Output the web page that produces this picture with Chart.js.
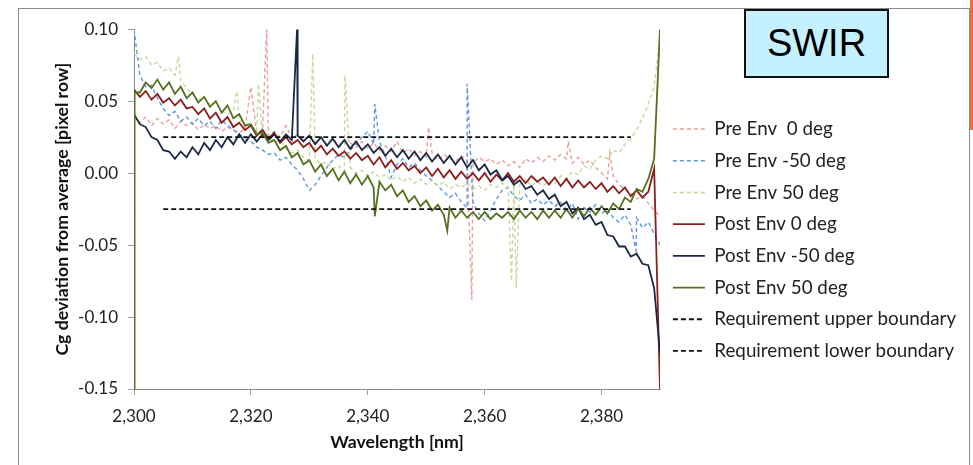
<!DOCTYPE html>
<html lang="en">

<head>
  <meta charset="UTF-8">
  <title>SWIR - Cg deviation</title>
  <script src="https://cdn.jsdelivr.net/npm/chart.js"></script>
  <style>
    body {
      margin: 0;
      width: 973px;
      height: 465px;
      background: #fff;
      position: relative;
      overflow: hidden;
    }

    .moldura {
      position: absolute;
      left: 18px;
      top: 8px;
      width: 950px;
      height: 480px;
      border: 1px solid #8c8c8c;
    }

    .laranja {
      position: absolute;
      left: 970px;
      top: 0;
      width: 3px;
      height: 130px;
      background: #e8742c;
    }

    #grafico {
      position: absolute;
      left: 19px;
      top: 9px;
    }

    .swir {
      position: absolute;
      left: 744px;
      top: 9px;
      width: 141px;
      height: 65px;
      border: 2px solid #111;
      background: #c5f0ff;
      color: #000;
      font-family: 'Liberation Sans', Arial, sans-serif;
      font-size: 38px;
      display: flex;
      align-items: center;
      justify-content: center;
    }
  </style>
</head>

<body>
  <div class="moldura"></div>
  <div class="laranja"></div>
  <canvas id="grafico" width="949" height="456"></canvas>
  <div class="swir">SWIR</div>

  <script>
    // wavelength axis, 1 nm steps (2300 .. 2390)
    const wavelength = [
      2300, 2301, 2302, 2303, 2304, 2305, 2306, 2307, 2308, 2309,
      2310, 2311, 2312, 2313, 2314, 2315, 2316, 2317, 2318, 2319,
      2320, 2321, 2322, 2323, 2324, 2325, 2326, 2327, 2328, 2329,
      2330, 2331, 2332, 2333, 2334, 2335, 2336, 2337, 2338, 2339,
      2340, 2341, 2342, 2343, 2344, 2345, 2346, 2347, 2348, 2349,
      2350, 2351, 2352, 2353, 2354, 2355, 2356, 2357, 2358, 2359,
      2360, 2361, 2362, 2363, 2364, 2365, 2366, 2367, 2368, 2369,
      2370, 2371, 2372, 2373, 2374, 2375, 2376, 2377, 2378, 2379,
      2380, 2381, 2382, 2383, 2384, 2385, 2386, 2387, 2388, 2389,
      2390
    ];

    const preEnv0 = [
      0.040, 0.035, 0.039, 0.033, 0.038, 0.034, 0.037, 0.031, 0.036, 0.033,
      0.035, 0.030, 0.034, 0.031, 0.033, 0.029, 0.032, 0.030, 0.028, 0.031,
      0.060, 0.027, 0.031, 0.026, 0.029, 0.025, 0.033, 0.024, 0.027, 0.023,
      0.026, 0.021, 0.025, 0.020, 0.024, 0.019, 0.023, 0.021, 0.018, 0.022,
      0.017, 0.021, 0.016, 0.019, 0.015, 0.022, 0.014, 0.017, 0.012, 0.015,
      0.011, 0.014, 0.009, 0.013, 0.010, 0.008, 0.012, 0.009, 0.007, 0.011,
      0.008, 0.010, 0.006, 0.009, 0.005, 0.008, 0.004, 0.010, 0.007, 0.011,
      0.008, 0.012, 0.009, 0.013, 0.010, 0.007, 0.011, 0.006, 0.009, 0.004,
      0.000, -0.004, -0.002, -0.008, -0.011, -0.014, -0.018, -0.016, -0.021, -0.026,
      -0.030
    ];
    const preEnv0Spikes = [[2322.7, 0.100], [2350.4, 0.032], [2357.8, -0.088], [2374.3, 0.022], [2381.4, 0.014]];

    const preEnvM50 = [
      0.100, 0.068, 0.060, 0.061, 0.052, 0.045, 0.040, 0.043, 0.036, 0.039,
      0.034, 0.038, 0.033, 0.036, 0.031, 0.037, 0.033, 0.030, 0.027, 0.024,
      0.022, 0.018, 0.016, 0.013, 0.014, 0.009, 0.011, 0.006, 0.002, -0.004,
      -0.012, -0.008, -0.002, 0.004, 0.009, 0.013, 0.011, 0.016, 0.020, 0.025,
      0.029, 0.020, 0.022, 0.012, -0.003, 0.006, 0.010, 0.004, 0.007, 0.002,
      -0.002, -0.005, -0.009, -0.013, -0.017, -0.014, -0.020, -0.024, -0.021, -0.028,
      -0.033, -0.026, -0.018, -0.012, -0.010, -0.016, -0.019, -0.015, -0.021, -0.018,
      -0.022, -0.019, -0.023, -0.020, -0.026, -0.021, -0.032, -0.024, -0.027, -0.022,
      -0.028, -0.025, -0.031, -0.034, -0.029, -0.036, -0.031, -0.038, -0.034, -0.042,
      -0.050
    ];
    const preEnvM50Spikes = [[2341.2, 0.048], [2357.0, 0.062], [2385.9, -0.054]];

    const preEnv50 = [
      0.083, 0.079, 0.081, 0.075, 0.077, 0.071, 0.073, 0.068, 0.064, 0.059,
      0.055, 0.051, 0.053, 0.047, 0.049, 0.043, 0.041, 0.043, 0.037, 0.035,
      0.033, 0.029, 0.025, 0.027, 0.021, 0.023, 0.017, 0.014, 0.016, 0.011,
      0.009, 0.010, 0.006, 0.008, 0.003, 0.005, 0.001, 0.004, 0.000, 0.002,
      -0.002, 0.001, -0.003, -0.001, -0.005, -0.002, -0.006, -0.003, -0.007, -0.004,
      -0.008, -0.005, -0.009, -0.006, -0.011, -0.008, -0.010, -0.007, -0.011, -0.009,
      -0.012, -0.008, -0.010, -0.007, -0.009, -0.005, -0.008, -0.004, -0.009, -0.006,
      -0.009, -0.005, -0.007, -0.002, -0.004, 0.001, -0.001, 0.005, 0.003, 0.009,
      0.012, 0.010, 0.016, 0.014, 0.020, 0.024, 0.030, 0.038, 0.048, 0.060,
      0.095
    ];
    const preEnv50Spikes = [[2307.6, 0.081], [2317.6, 0.057], [2321.3, 0.062], [2330.6, 0.083], [2336.1, 0.068], [2364.6, -0.075], [2365.4, -0.080]];

    const postEnv0 = [
      0.058, 0.053, 0.057, 0.051, 0.055, 0.049, 0.052, 0.047, 0.051, 0.045,
      0.046, 0.041, 0.045, 0.038, 0.042, 0.035, 0.039, 0.032, 0.035, 0.030,
      0.033, 0.026, 0.030, 0.024, 0.028, 0.021, 0.025, 0.020, 0.023, 0.018,
      0.021, 0.015, 0.019, 0.013, 0.017, 0.012, 0.015, 0.010, 0.014, 0.009,
      0.012, 0.006, 0.011, 0.004, 0.009, 0.003, 0.007, 0.002, 0.005, 0.000,
      0.004, -0.002, 0.003, -0.003, 0.002, -0.004, 0.001, -0.004, 0.000, -0.005,
      0.000, -0.006, -0.001, -0.005, 0.000, -0.006, -0.002, -0.007, -0.002, -0.006,
      -0.003, -0.008, -0.003, -0.009, -0.004, -0.010, -0.005, -0.010, -0.006, -0.011,
      -0.007, -0.013, -0.009, -0.014, -0.010, -0.016, -0.012, -0.017, -0.013, 0.003,
      -0.150
    ];
    const postEnv0Spikes = [];

    const postEnvM50 = [
      0.041, 0.034, 0.032, 0.025, 0.023, 0.016, 0.015, 0.010, 0.015, 0.011,
      0.018, 0.013, 0.021, 0.016, 0.023, 0.018, 0.025, 0.020, 0.027, 0.021,
      0.027, 0.022, 0.027, 0.023, 0.027, 0.022, 0.027, 0.023, 0.026, 0.022,
      0.026, 0.020, 0.025, 0.019, 0.024, 0.018, 0.023, 0.017, 0.022, 0.016,
      0.020, 0.014, 0.018, 0.012, 0.017, 0.011, 0.016, 0.010, 0.015, 0.009,
      0.014, 0.008, 0.013, 0.007, 0.012, 0.006, 0.011, 0.004, 0.009, 0.002,
      0.006, -0.001, 0.002, -0.005, -0.002, -0.008, -0.005, -0.011, -0.009, -0.015,
      -0.012, -0.018, -0.015, -0.023, -0.020, -0.028, -0.024, -0.032, -0.029, -0.036,
      -0.034, -0.043, -0.044, -0.051, -0.051, -0.058, -0.056, -0.063, -0.064, -0.080,
      -0.125
    ];
    const postEnvM50Spikes = [[2327.9, 0.100]];

    const postEnv50 = [
      -0.150, 0.056, 0.063, 0.059, 0.065, 0.058, 0.063, 0.055, 0.060, 0.052,
      0.056, 0.049, 0.053, 0.046, 0.050, 0.042, 0.047, 0.038, 0.041, 0.033,
      0.034, 0.027, 0.028, 0.021, 0.023, 0.016, 0.019, 0.011, 0.014, 0.006,
      0.009, 0.001, 0.006, -0.002, 0.003, -0.005, 0.001, -0.007, -0.001, -0.008,
      -0.002, -0.010, -0.006, -0.012, -0.008, -0.016, -0.012, -0.020, -0.016, -0.023,
      -0.019, -0.026, -0.022, -0.029, -0.024, -0.031, -0.026, -0.031, -0.027, -0.032,
      -0.027, -0.032, -0.028, -0.031, -0.027, -0.032, -0.026, -0.031, -0.027, -0.032,
      -0.026, -0.031, -0.026, -0.031, -0.025, -0.031, -0.025, -0.030, -0.024, -0.029,
      -0.023, -0.028, -0.021, -0.025, -0.017, -0.020, -0.011, -0.013, -0.004, 0.010,
      0.100
    ];
    const postEnv50Spikes = [[2300.1, 0.056], [2341.2, -0.030], [2353.6, -0.040]];

    // requirement boundaries
    const reqWavelength = [2305, 2385];
    const reqUpper = [0.025, 0.025];
    const reqLower = [-0.025, -0.025];

    const yTicks = [-0.15, -0.10, -0.05, 0.00, 0.05, 0.10];

    const LEGEND_WIDTH = 308;

    function montarSerie(x, valores, picos) {
      var pontos = x.map(function (w, i) { return { x: w, y: valores[i] }; });
      picos.forEach(function (p) { pontos.push({ x: p[0], y: p[1] }); });
      return pontos.sort(function (a, b) { return a.x - b.x; });
    }

    function serie(label, pontos, cor, tracejado, espessura, ordem) {
      return {
        label: label,
        data: pontos,
        borderColor: cor,
        backgroundColor: cor,
        borderWidth: espessura,
        borderDash: tracejado,
        pointRadius: 0,
        tension: 0,
        order: ordem
      };
    }

    // legend keeps a fixed width so the plot area lands where it should
    const larguraLegenda = {
      id: 'larguraLegenda',
      beforeLayout(chart) {
        var lg = chart.legend;
        if (lg && !lg._fixo) {
          var fitOriginal = lg.fit;
          lg.fit = function () {
            fitOriginal.call(this);
            this.width = LEGEND_WIDTH;
          };
          lg._fixo = true;
        }
      }
    };

    Chart.defaults.font.family = 'Lato, "Open Sans", sans-serif';
    Chart.defaults.color = '#222';

    const dados = {
      datasets: [
        serie('Pre Env  0 deg', montarSerie(wavelength, preEnv0, preEnv0Spikes), '#e9a09c', [4, 3], 1.4, 8),
        serie('Pre Env -50 deg', montarSerie(wavelength, preEnvM50, preEnvM50Spikes), '#5f97de', [4, 3], 1.4, 7),
        serie('Pre Env 50 deg', montarSerie(wavelength, preEnv50, preEnv50Spikes), '#c3da9c', [4, 3], 1.4, 6),
        serie('Post Env 0 deg', montarSerie(wavelength, postEnv0, postEnv0Spikes), '#8b1e1e', [], 1.8, 5),
        serie('Post Env -50 deg', montarSerie(wavelength, postEnvM50, postEnvM50Spikes), '#1b2946', [], 1.8, 4),
        serie('Post Env 50 deg', montarSerie(wavelength, postEnv50, postEnv50Spikes), '#55701f', [], 1.8, 3),
        serie('Requirement upper boundary', montarSerie(reqWavelength, reqUpper, []), '#111', [5, 3], 1.8, 2),
        serie('Requirement lower boundary', montarSerie(reqWavelength, reqLower, []), '#111', [5, 3], 1.8, 1)
      ]
    };

    const config = {
      type: 'line',
      data: dados,
      plugins: [larguraLegenda],
      options: {
        responsive: false,
        animation: false,
        devicePixelRatio: 1,
        layout: { padding: { top: 18, left: 0, right: 0, bottom: 12 } },
        plugins: {
          tooltip: { enabled: false },
          legend: {
            position: 'right',
            labels: {
              usePointStyle: true,
              pointStyle: 'line',
              pointStyleWidth: 32,
              padding: 12.9,
              color: '#222',
              font: { size: 18.8 },
              sort: function (a, b) { return a.datasetIndex - b.datasetIndex; },
              // the line sample takes dash and width from the dataset itself
              generateLabels: function (chart) {
                var itens = Chart.defaults.plugins.legend.labels.generateLabels(chart);
                itens.forEach(function (it) {
                  var ds = chart.data.datasets[it.datasetIndex];
                  it.lineDash = ds.borderDash;
                  it.lineWidth = ds.borderWidth;
                  it.strokeStyle = ds.borderColor;
                  it.pointStyle = 'line';
                });
                return itens;
              }
            }
          }
        },
        scales: {
          x: {
            type: 'linear',
            min: 2300,
            max: 2390,
            afterFit: function (scale) { scale.height = 64; },
            border: { color: '#8a8a8a', width: 1 },
            grid: { drawOnChartArea: false, drawTicks: true, tickLength: 6, color: '#a0a0a0' },
            ticks: {
              stepSize: 20,
              includeBounds: false,
              padding: 11,
              color: '#222',
              font: { size: 17 },
              callback: function (v) { return v.toLocaleString('en-US'); }
            },
            title: {
              display: true,
              text: 'Wavelength [nm]',
              color: '#111',
              font: { size: 17.7, weight: 'bold' },
              padding: { top: 0, bottom: 0 }
            }
          },
          y: {
            min: yTicks[0],
            max: yTicks[yTicks.length - 1],
            afterFit: function (scale) { scale.width = 115; },
            afterBuildTicks: function (scale) {
              scale.ticks = yTicks.map(function (v) { return { value: v }; });
            },
            border: { color: '#8a8a8a', width: 1 },
            grid: { drawOnChartArea: false, drawTicks: true, tickLength: 6, color: '#a0a0a0' },
            ticks: {
              padding: 10,
              color: '#222',
              font: { size: 17 },
              callback: function (v) { return Math.abs(v) < 1e-9 ? '0.00' : v.toFixed(2); }
            },
            title: {
              display: true,
              text: 'Cg deviation from average [pixel row]',
              color: '#111',
              font: { size: 17.7, weight: 'bold' },
              padding: { top: 33, bottom: 0 }
            }
          }
        }
      }
    };

    let meuGrafico = new Chart(document.getElementById('grafico'), config);
  </script>
</body>

</html>
